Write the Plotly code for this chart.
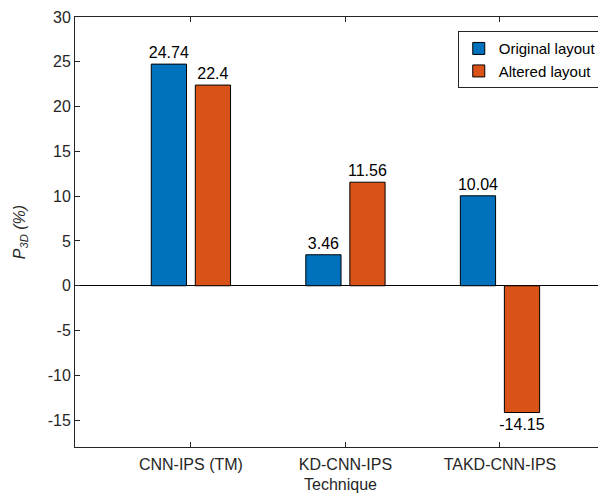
import plotly.graph_objects as go

categories = ["CNN-IPS (TM)", "KD-CNN-IPS", "TAKD-CNN-IPS"]
original = [24.74, 3.46, 10.04]
altered = [22.4, 11.56, -14.15]
original_labels = ["24.74", "3.46", "10.04"]
altered_labels = ["22.4", "11.56", "-14.15"]
y_ticks = [-15, -10, -5, 0, 5, 10, 15, 20, 25, 30]
y_ticktext = ["-15", "-10", "-5", "0", "5", "10", "15", "20", "25", "30"]

xpos = [1, 2, 3]
font = "Liberation Sans"
FS = 16

fig = go.Figure()
fig.add_trace(go.Bar(x=xpos, y=original, name="Original layout", text=original_labels,
                     textposition="outside", constraintext="none",
                     marker=dict(color="#0072BD", line=dict(color="black", width=1)),
                     textfont=dict(color="black", size=FS, family=font), cliponaxis=False))
fig.add_trace(go.Bar(x=xpos, y=altered, name="Altered layout", text=altered_labels,
                     textposition="outside", constraintext="none",
                     marker=dict(color="#D95319", line=dict(color="black", width=1)),
                     textfont=dict(color="black", size=FS, family=font), cliponaxis=False))

# page body has an 8px margin, so the figure is shrunk and margins reduced by 8px
fig.update_layout(
    width=598, height=488,
    margin=dict(l=67, r=0, t=9, b=49),
    paper_bgcolor="white", plot_bgcolor="white",
    barmode="group", bargap=0.43, bargroupgap=0.2,
    font=dict(family=font, size=FS, color="#262626"),
    showlegend=True,
    legend=dict(x=0.992, y=0.967, xanchor="right", yanchor="top",
                bordercolor="#262626", borderwidth=1, bgcolor="white",
                font=dict(size=15, color="black"), tracegroupgap=0),
)
fig.update_xaxes(range=[0.25, 3.686], tickvals=xpos, ticktext=categories,
                 showline=True, linecolor="#262626", linewidth=1, mirror="ticks",
                 ticks="inside", ticklen=5, tickcolor="#262626", showgrid=False,
                 zeroline=False, tickfont=dict(size=FS, color="#262626"),
                 ticklabelstandoff=3,
                 title=dict(text="Technique", font=dict(size=FS, color="#262626"), standoff=6))
fig.update_yaxes(range=[-18, 30], tickvals=y_ticks, ticktext=y_ticktext,
                 showline=True, linecolor="#262626", linewidth=1, mirror="ticks",
                 ticks="inside", ticklen=5, tickcolor="#262626", showgrid=False,
                 zeroline=True, zerolinecolor="black", zerolinewidth=1,
                 tickfont=dict(size=FS, color="#262626"),
                 title=dict(text="<i>P<sub>3D</sub> (%)</i>", font=dict(size=FS, color="#262626"), standoff=18))

fig.write_html("out.html")
